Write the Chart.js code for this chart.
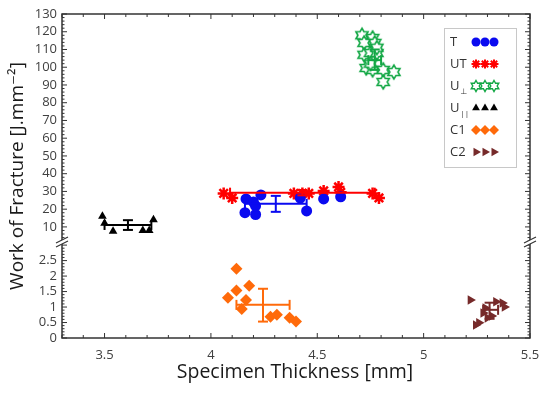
<!DOCTYPE html>
<html>
<head>
<meta charset="utf-8">
<script src="https://cdn.jsdelivr.net/npm/chart.js@4.4.0/dist/chart.umd.min.js"></script>
<style>
  html, body { margin: 0; padding: 0; background: #fff; }
  #wrap { width: 550px; height: 396px; }
</style>
</head>
<body>
<div id="wrap"><canvas id="chart"></canvas></div>
<script>
// specimen thickness [mm] and work of fracture [J.mm-2] for each group
const tX = [4.165, 4.20, 4.235, 4.16, 4.21, 4.21, 4.42, 4.45, 4.53, 4.61];
const tY = [25.8, 24.0, 28.0, 18.0, 17.0, 21.8, 26.3, 19.0, 25.8, 27.0];
const utX = [4.06, 4.10, 4.39, 4.43, 4.46, 4.53, 4.60, 4.61, 4.76, 4.79];
const utY = [28.9, 26.3, 28.9, 28.9, 28.9, 30.3, 32.5, 29.5, 28.9, 26.3];
const uPerpX = [4.71, 4.76, 4.77, 4.72, 4.72, 4.75, 4.78, 4.73, 4.76, 4.81, 4.86, 4.81, 4.75, 4.78];
const uPerpY = [118, 116.5, 113.7, 113.7, 107, 108, 108, 99.6, 98.5, 98.5, 97.3, 91.7, 102, 111];
const uParX = [3.49, 3.50, 3.54, 3.68, 3.71, 3.73];
const uParY = [16, 12, 7.5, 8, 8, 14];
const c1X = [4.12, 4.12, 4.18, 4.08, 4.165, 4.145, 4.28, 4.31, 4.37, 4.40];
const c1Y = [2.24, 1.53, 1.69, 1.30, 1.23, 0.94, 0.69, 0.75, 0.65, 0.53];
const c2X = [5.22, 5.34, 5.37, 5.38, 5.29, 5.28, 5.30, 5.245, 5.26, 5.32];
const c2Y = [1.23, 1.17, 1.13, 1.00, 0.97, 0.81, 0.65, 0.42, 0.49, 0.71];

// error bars: [mean, low, high]
const tErrX = [4.305, 4.16, 4.45];     const tErrY = [23.0, 18.5, 27.5];
const utErrX = [4.43, 4.09, 4.77];     const utErrY = [29.3, 27.8, 30.8];
const uPerpErrX = [4.77, 4.74, 4.80];  const uPerpErrY = [104, 98.5, 110];
const uParErrX = [3.61, 3.50, 3.72];   const uParErrY = [11.1, 8.3, 13.8];
const c1ErrX = [4.245, 4.12, 4.37];    const c1ErrY = [1.07, 0.53, 1.59];
const c2ErrX = [5.31, 5.28, 5.35];     const c2ErrY = [0.91, 0.62, 1.14];

const xTicks = [3.5, 4, 4.5, 5, 5.5];
const upperTicks = [10, 20, 30, 40, 50, 60, 70, 80, 90, 100, 110, 120, 130];
const lowerTicks = [0, 0.5, 1, 1.5, 2, 2.5];

const BLUE = '#0a0af0', RED = '#ff0000', GREEN = '#12a744', BLACK = '#000000', ORANGE = '#ff6a0a', BROWN = '#762a2a';
const FONT = "'Open Sans', 'DejaVu Sans', sans-serif";

function pts(xs, ys) {
    return xs.map((x, i) => ({ x: x, y: ys[i] }));
}

// six pointed outline star, drawn once into a small canvas
function hexagram(r, color, lw) {
    const c = document.createElement('canvas');
    const s = Math.ceil(r * 2 + lw * 2 + 2);
    c.width = s; c.height = s;
    const g = c.getContext('2d');
    g.strokeStyle = color;
    g.lineWidth = lw;
    g.fillStyle = '#fff';
    g.beginPath();
    for (let i = 0; i < 12; i++) {
        const a = -Math.PI / 2 + i * Math.PI / 6;
        const rr = i % 2 ? r * 0.577 : r;
        const px = s / 2 + rr * Math.cos(a), py = s / 2 + rr * Math.sin(a);
        if (i === 0) g.moveTo(px, py); else g.lineTo(px, py);
    }
    g.closePath();
    g.fill();
    g.stroke();
    return c;
}
const starBig = hexagram(7, GREEN, 1.6);
const starSmall = hexagram(5.5, GREEN, 1.4);

const datasets = [
    { label: 'T', data: pts(tX, tY), yAxisID: 'yUp', pointStyle: 'circle', pointRadius: 5.5, backgroundColor: BLUE, borderColor: BLUE, borderWidth: 0 },
    { label: 'UT', data: pts(utX, utY), yAxisID: 'yUp', pointStyle: 'star', pointRadius: 6, backgroundColor: RED, borderColor: RED, borderWidth: 2.5 },
    { label: 'U⊥', data: pts(uPerpX, uPerpY), yAxisID: 'yUp', pointStyle: starBig, pointRadius: 7, backgroundColor: GREEN, borderColor: GREEN },
    { label: 'U||', data: pts(uParX, uParY), yAxisID: 'yUp', pointStyle: 'triangle', pointRadius: 5, backgroundColor: BLACK, borderColor: BLACK, borderWidth: 0 },
    { label: 'C1', data: pts(c1X, c1Y), yAxisID: 'yLow', pointStyle: 'rectRot', pointRadius: 6, backgroundColor: ORANGE, borderColor: ORANGE, borderWidth: 0 },
    { label: 'C2', data: pts(c2X, c2Y), yAxisID: 'yLow', pointStyle: 'triangle', rotation: 90, pointRadius: 5.5, backgroundColor: BROWN, borderColor: BROWN, borderWidth: 0 }
];

const errorBars = [
    { axis: 'yUp', color: BLUE, x: tErrX, y: tErrY },
    { axis: 'yUp', color: RED, x: utErrX, y: utErrY },
    { axis: 'yUp', color: GREEN, x: uPerpErrX, y: uPerpErrY },
    { axis: 'yUp', color: BLACK, x: uParErrX, y: uParErrY },
    { axis: 'yLow', color: ORANGE, x: c1ErrX, y: c1ErrY },
    { axis: 'yLow', color: BROWN, x: c2ErrX, y: c2ErrY }
];

const legendRows = [
    { name: 'T', sub: '', ds: 0, style: 'circle', r: 4.5 },
    { name: 'UT', sub: '', ds: 1, style: 'star', r: 4.5 },
    { name: 'U', sub: '⊥', ds: 2, style: starSmall, r: 5 },
    { name: 'U', sub: '||', ds: 3, style: 'triangle', r: 4.5 },
    { name: 'C1', sub: '', ds: 4, style: 'rectRot', r: 5 },
    { name: 'C2', sub: '', ds: 5, style: 'triangle', r: 5, rot: 90 }
];

function line(ctx, x1, y1, x2, y2) {
    ctx.beginPath(); ctx.moveTo(x1, y1); ctx.lineTo(x2, y2); ctx.stroke();
}

const decorations = {
    id: 'decorations',
    afterDatasetsDraw(chart) {
        const ctx = chart.ctx;
        const xs = chart.scales.x;
        ctx.save();
        ctx.lineWidth = 2;
        errorBars.forEach(e => {
            const ys = chart.scales[e.axis];
            const xm = xs.getPixelForValue(e.x[0]), xl = xs.getPixelForValue(e.x[1]), xh = xs.getPixelForValue(e.x[2]);
            const ym = ys.getPixelForValue(e.y[0]), yl = ys.getPixelForValue(e.y[1]), yh = ys.getPixelForValue(e.y[2]);
            ctx.strokeStyle = e.color;
            line(ctx, xl, ym, xh, ym);
            line(ctx, xl, ym - 5, xl, ym + 5);
            line(ctx, xh, ym - 5, xh, ym + 5);
            line(ctx, xm, yl, xm, yh);
            line(ctx, xm - 5, yl, xm + 5, yl);
            line(ctx, xm - 5, yh, xm + 5, yh);
        });
        ctx.restore();
    },
    afterDraw(chart) {
        const ctx = chart.ctx;
        const a = chart.chartArea;
        const xs = chart.scales.x, yu = chart.scales.yUp, yl = chart.scales.yLow;
        ctx.save();
        ctx.strokeStyle = '#333';
        ctx.lineWidth = 1.5;
        ctx.strokeRect(a.left, a.top, a.right - a.left, a.bottom - a.top);

        // inward ticks
        ctx.lineWidth = 1;
        for (let i = 0; i <= 22; i++) {
            const v = 3.3 + i * 0.1;
            const px = xs.getPixelForValue(v);
            const len = Math.abs(v * 2 - Math.round(v * 2)) < 1e-6 ? 5 : 3;
            line(ctx, px, a.bottom, px, a.bottom - len);
            line(ctx, px, a.top, px, a.top + len);
        }
        for (let v = 2; v <= 130; v += 2) {
            const py = yu.getPixelForValue(v);
            const len = v % 10 === 0 ? 5 : 2.5;
            line(ctx, a.left, py, a.left + len, py);
            line(ctx, a.right, py, a.right - len, py);
        }
        for (let i = 0; i <= 30; i++) {
            const v = i * 0.1;
            const py = yl.getPixelForValue(v);
            const len = i % 5 === 0 ? 5 : 2.5;
            line(ctx, a.left, py, a.left + len, py);
            line(ctx, a.right, py, a.right - len, py);
        }

        // axis break marks
        const by = yu.bottom;
        [a.left, a.right].forEach(bx => {
            ctx.fillStyle = '#fff';
            ctx.beginPath();
            ctx.moveTo(bx - 6, by + 1); ctx.lineTo(bx + 6, by - 5);
            ctx.lineTo(bx + 6, by - 1); ctx.lineTo(bx - 6, by + 5);
            ctx.closePath(); ctx.fill();
            ctx.strokeStyle = '#333';
            ctx.lineWidth = 1.2;
            line(ctx, bx - 6, by + 1, bx + 6, by - 5);
            line(ctx, bx - 6, by + 5, bx + 6, by - 1);
        });

        // axis titles
        ctx.fillStyle = '#1a1a1a';
        ctx.textAlign = 'center';
        ctx.textBaseline = 'middle';
        ctx.font = '19.5px ' + FONT;
        ctx.fillText('Specimen Thickness [mm]', 295, 372);
        ctx.save();
        ctx.translate(18, 176);
        ctx.rotate(-Math.PI / 2);
        ctx.font = '19px ' + FONT;
        ctx.fillText('Work of Fracture [J.mm⁻²]', 0, 0);
        ctx.restore();

        // legend
        const lx = 444, ly = 28, lw = 72, lh = 139;
        ctx.fillStyle = '#fff';
        ctx.fillRect(lx, ly, lw, lh);
        ctx.strokeStyle = '#c8c8c8';
        ctx.lineWidth = 1;
        ctx.strokeRect(lx + 0.5, ly + 0.5, lw, lh);
        legendRows.forEach((row, i) => {
            const ry = 42 + i * 22;
            ctx.fillStyle = '#333';
            ctx.textAlign = 'left';
            ctx.textBaseline = 'middle';
            ctx.font = '13px ' + FONT;
            ctx.fillText(row.name, 450, ry);
            if (row.sub) {
                const w = ctx.measureText(row.name).width;
                ctx.font = '8px ' + FONT;
                ctx.fillText(row.sub, 451 + w, ry + 6);
            }
            const ds = datasets[row.ds];
            [476, 485, 494].forEach(mx => {
                ctx.fillStyle = ds.backgroundColor;
                ctx.strokeStyle = ds.borderColor;
                ctx.lineWidth = row.style === 'star' ? 2 : 0;
                Chart.helpers.drawPoint(ctx, {
                    pointStyle: row.style,
                    radius: row.r,
                    rotation: row.rot || 0,
                    borderWidth: row.style === 'star' ? 2 : 0
                }, mx, ry);
            });
        });
        ctx.restore();
    }
};

const tickFont = { family: FONT, size: 13 };
const plainLabel = v => String(v);

new Chart(document.getElementById('chart'), {
    type: 'scatter',
    data: { datasets: datasets },
    options: {
        responsive: true,
        maintainAspectRatio: false,
        devicePixelRatio: 1,
        animation: false,
        layout: { padding: { top: 14, right: 20, left: 0, bottom: 0 } },
        plugins: { legend: { display: false }, tooltip: { enabled: false } },
        scales: {
            x: {
                type: 'linear', min: 3.3, max: 5.5,
                grid: { display: false, drawTicks: false }, border: { display: false },
                afterBuildTicks: s => { s.ticks = xTicks.map(v => ({ value: v })); },
                afterFit: s => { s.height = 58; },
                ticks: { font: tickFont, color: '#404040', padding: 9, autoSkip: false, maxRotation: 0, callback: plainLabel }
            },
            yLow: {
                type: 'linear', position: 'left', stack: 'wof', stackWeight: 96,
                min: 0, max: 3.1,
                grid: { display: false, drawTicks: false }, border: { display: false },
                afterBuildTicks: s => { s.ticks = lowerTicks.map(v => ({ value: v })); },
                afterFit: s => { s.width = 62; },
                ticks: { font: tickFont, color: '#404040', padding: 5, autoSkip: false, callback: plainLabel }
            },
            yUp: {
                type: 'linear', position: 'left', stack: 'wof', stackWeight: 228,
                min: 1.5, max: 130,
                grid: { display: false, drawTicks: false }, border: { display: false },
                afterBuildTicks: s => { s.ticks = upperTicks.map(v => ({ value: v })); },
                afterFit: s => { s.width = 62; },
                ticks: { font: tickFont, color: '#404040', padding: 5, autoSkip: false, callback: plainLabel }
            }
        }
    },
    plugins: [decorations]
});
</script>
</body>
</html>
